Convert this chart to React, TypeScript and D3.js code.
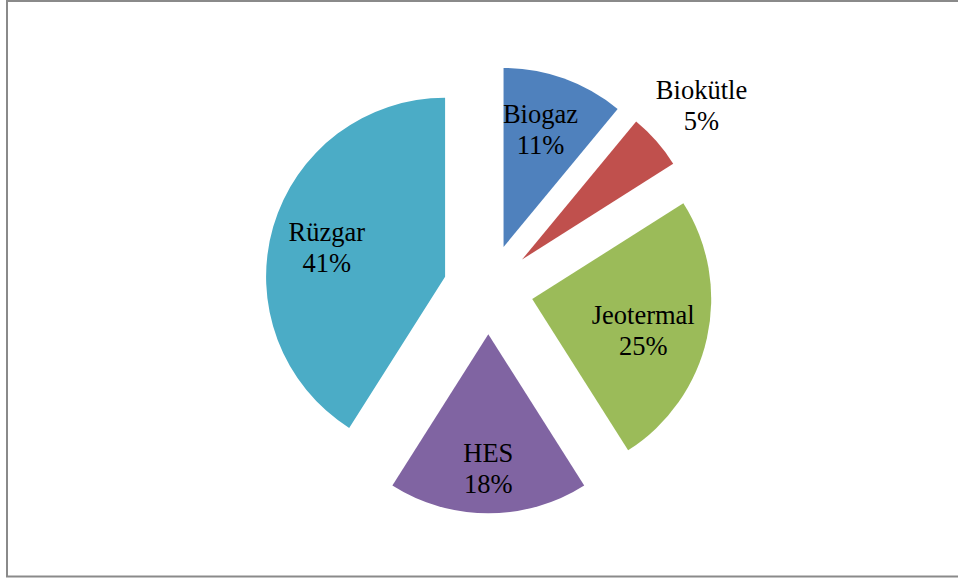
import React from "react";
import * as d3 from "d3";

const categories = ["Biogaz", "Biokütle", "Jeotermal", "HES", "Rüzgar"];
const values = [11, 5, 25, 18, 41];
const colors = ["#4F81BD", "#C0504D", "#9BBB59", "#8064A2", "#4BACC6"];

// label placement tweaks (radius as a fraction of the pie radius, angle nudge in degrees)
const labelLayout: Record<string, { r: number; da: number }> = {
  Biogaz: { r: 0.64, da: -1 },
  "Biokütle": { r: 1.29, da: 2.4 },
  Jeotermal: { r: 0.66, da: 7.4 },
  HES: { r: 0.8, da: 0 },
  "Rüzgar": { r: 0.67, da: -6.7 },
};

const W = 958;
const H = 578;
const CX = 488.3;
const CY = 289.3;
const R = 179;
const EXPLODE = 45;

export default function App() {
  const data = categories.map((c, i) => ({ name: c, value: values[i], color: colors[i] }));
  const pie = d3
    .pie<{ name: string; value: number; color: string }>()
    .sort(null)
    .value((d) => d.value)
    .startAngle(0)
    .endAngle(2 * Math.PI);
  const arcs = pie(data);
  const arcGen = d3
    .arc<d3.PieArcDatum<{ name: string; value: number; color: string }>>()
    .innerRadius(0)
    .outerRadius(R);
  const total = d3.sum(values);

  return (
    <svg
      width={W}
      height={H}
      style={{ position: "absolute", left: 0, top: 0, background: "#fff" }}
    >
      <rect x={0} y={0} width={W} height={H} fill="#fff" />
      <rect
        x={7}
        y={1}
        width={W + 20}
        height={575.5}
        fill="none"
        stroke="#8a8a8a"
        strokeWidth={2}
      />
      {arcs.map((a) => {
        const mid = (a.startAngle + a.endAngle) / 2;
        const ox = EXPLODE * Math.sin(mid);
        const oy = -EXPLODE * Math.cos(mid);
        const lay = labelLayout[a.data.name];
        const la = mid + (lay.da * Math.PI) / 180;
        const lx = ox + lay.r * R * Math.sin(la);
        const ly = oy - lay.r * R * Math.cos(la);
        const pct = Math.round((a.value / total) * 100) + "%";
        return (
          <g key={a.data.name} transform={`translate(${CX},${CY})`}>
            <path d={arcGen(a) || ""} fill={a.data.color} transform={`translate(${ox},${oy})`} />
            <text
              x={lx}
              textAnchor="middle"
              style={{ fontFamily: "Liberation Serif", fontSize: "26.5px" }}
              fill="#000"
            >
              <tspan x={lx} y={ly - 15.5}>
                {a.data.name}
              </tspan>
              <tspan x={lx} y={ly + 15.5}>
                {pct}
              </tspan>
            </text>
          </g>
        );
      })}
    </svg>
  );
}
